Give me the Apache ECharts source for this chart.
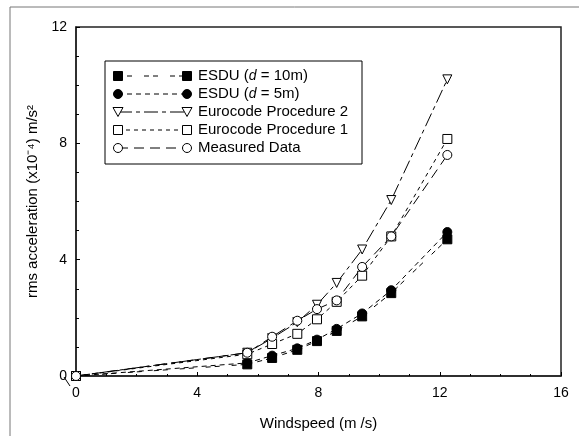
<!DOCTYPE html>
<html>
<head>
<meta charset="utf-8">
<script src="https://cdn.jsdelivr.net/npm/echarts@6/dist/echarts.min.js"></script>
<style>
    html, body { margin: 0; padding: 0; background: #fff; }
    #chart { width: 579px; height: 436px; }
</style>
</head>
<body>
<div id="chart"></div>
<script>
    "use strict";

    // wind speeds (m/s) shared by all series
    var windspeed = [0, 5.65, 6.47, 7.3, 7.95, 8.6, 9.44, 10.4, 12.25];

    // rms acceleration (x10^-4 m/s^2)
    var esdu10 = [0, 0.40, 0.62, 0.90, 1.20, 1.55, 2.05, 2.85, 4.70];
    var esdu5 = [0, 0.45, 0.70, 0.95, 1.25, 1.62, 2.15, 2.95, 4.95];
    var euro2 = [0, 0.80, 1.30, 1.85, 2.45, 3.20, 4.35, 6.05, 10.2];
    var euro1 = [0, 0.75, 1.10, 1.45, 1.95, 2.55, 3.45, 4.80, 8.15];
    var measured = [0, 0.80, 1.35, 1.90, 2.30, 2.60, 3.75, 4.80, 7.60];

    var xTicks = [0, 4, 8, 12, 16];
    var yTicks = [0, 4, 8, 12];

    var FONT = '"Liberation Sans", Arial, sans-serif';
    var triDown = 'path://M0,0 L10,0 L5,9 Z';

    var seriesDefs = [
        { name: 'ESDU ({i|d} = 10m)', data: esdu10, symbol: 'rect', fill: '#000', dash: [5, 4, 5, 12] },
        { name: 'ESDU ({i|d} = 5m)', data: esdu5, symbol: 'circle', fill: '#000', dash: [5, 4] },
        { name: 'Eurocode Procedure 2', data: euro2, symbol: triDown, fill: '#fff', dash: [14, 4, 4, 4] },
        { name: 'Eurocode Procedure 1', data: euro1, symbol: 'rect', fill: '#fff', dash: [4, 4] },
        { name: 'Measured Data', data: measured, symbol: 'circle', fill: '#fff', dash: [10, 6] }
    ];

    function pairs(values) {
        return windspeed.map(function (x, i) { return [x, values[i]]; });
    }

    var series = seriesDefs.map(function (s) {
        return {
            type: 'line',
            data: pairs(s.data),
            symbol: s.symbol,
            symbolSize: 9,
            showAllSymbol: true,
            itemStyle: { color: s.fill, borderColor: '#000', borderWidth: 1 },
            lineStyle: { color: '#000', width: 1, type: s.dash },
            z: 3
        };
    });

    // legend drawn by hand so it has a marker at both ends of each line
    var legendItems = [{
        type: 'rect',
        shape: { x: 105, y: 61, width: 257, height: 103 },
        style: { fill: '#fff', stroke: '#000', lineWidth: 1 },
        z: 10
    }];
    seriesDefs.forEach(function (s, i) {
        var y = 76 + i * 18;
        legendItems.push({
            type: 'line',
            shape: { x1: 118, y1: y, x2: 187, y2: y },
            style: { stroke: '#000', lineWidth: 1, lineDash: s.dash },
            z: 11
        });
        [118, 187].forEach(function (x) {
            if (s.symbol === 'rect') {
                legendItems.push({ type: 'rect', shape: { x: x - 4.5, y: y - 4.5, width: 9, height: 9 },
                    style: { fill: s.fill, stroke: '#000', lineWidth: 1 }, z: 12 });
            } else if (s.symbol === 'circle') {
                legendItems.push({ type: 'circle', shape: { cx: x, cy: y, r: 4.5 },
                    style: { fill: s.fill, stroke: '#000', lineWidth: 1 }, z: 12 });
            } else {
                legendItems.push({ type: 'polygon', shape: { points: [[x - 5, y - 4.5], [x + 5, y - 4.5], [x, y + 4.5]] },
                    style: { fill: s.fill, stroke: '#000', lineWidth: 1 }, z: 12 });
            }
        });
        legendItems.push({
            type: 'text',
            x: 198, y: y,
            style: {
                text: s.name,
                fill: '#000',
                font: '15px ' + FONT,
                verticalAlign: 'middle',
                rich: { i: { fontStyle: 'italic', fontSize: 14, fontFamily: FONT, fill: '#000' } }
            },
            z: 12
        });
    });

    var option = {
        animation: false,
        backgroundColor: '#fff',
        textStyle: { fontFamily: FONT },
        grid: { left: 76, right: 18, top: 27, bottom: 56, show: true, borderColor: '#222', borderWidth: 1.5 },
        xAxis: {
            type: 'value',
            min: xTicks[0],
            max: xTicks[xTicks.length - 1],
            interval: 4,
            name: 'Windspeed (m /s)',
            nameLocation: 'middle',
            nameGap: 40,
            nameTextStyle: { fontSize: 15, color: '#000', fontFamily: FONT },
            axisLine: { show: true, lineStyle: { color: '#222', width: 1.5 } },
            axisTick: { show: true, inside: true, length: 4, lineStyle: { color: '#000' } },
            minorTick: { show: true, splitNumber: 4, length: 2, lineStyle: { color: '#000' } },
            splitLine: { show: false },
            axisLabel: { fontSize: 14, color: '#000', margin: 10, fontFamily: FONT }
        },
        yAxis: {
            type: 'value',
            min: yTicks[0],
            max: yTicks[yTicks.length - 1],
            interval: 4,
            name: 'rms acceleration (x10\u207B\u2074) m/s\u00B2',
            nameLocation: 'middle',
            nameGap: 31,
            nameTextStyle: { fontSize: 15, color: '#000', fontFamily: FONT },
            axisLine: { show: true, lineStyle: { color: '#222', width: 1.5 } },
            axisTick: { show: true, inside: true, length: 4, lineStyle: { color: '#000' } },
            minorTick: { show: true, splitNumber: 4, length: 3, lineStyle: { color: '#000' } },
            splitLine: { show: false },
            axisLabel: { fontSize: 14, color: '#000', margin: 9, fontFamily: FONT }
        },
        series: series,
        graphic: legendItems.concat([
            // outer frame (left and top edges)
            { type: 'line', shape: { x1: 10, y1: 7, x2: 579, y2: 7 }, style: { stroke: '#777', lineWidth: 1 } },
            { type: 'line', shape: { x1: 10, y1: 7, x2: 10, y2: 436 }, style: { stroke: '#777', lineWidth: 1 } },
            // axis break mark near the origin
            { type: 'line', shape: { x1: 64, y1: 377, x2: 70, y2: 386 }, style: { stroke: '#000', lineWidth: 1 } }
        ])
    };

    var chart = echarts.init(document.getElementById('chart'));
    chart.setOption(option);
</script>
</body>
</html>
